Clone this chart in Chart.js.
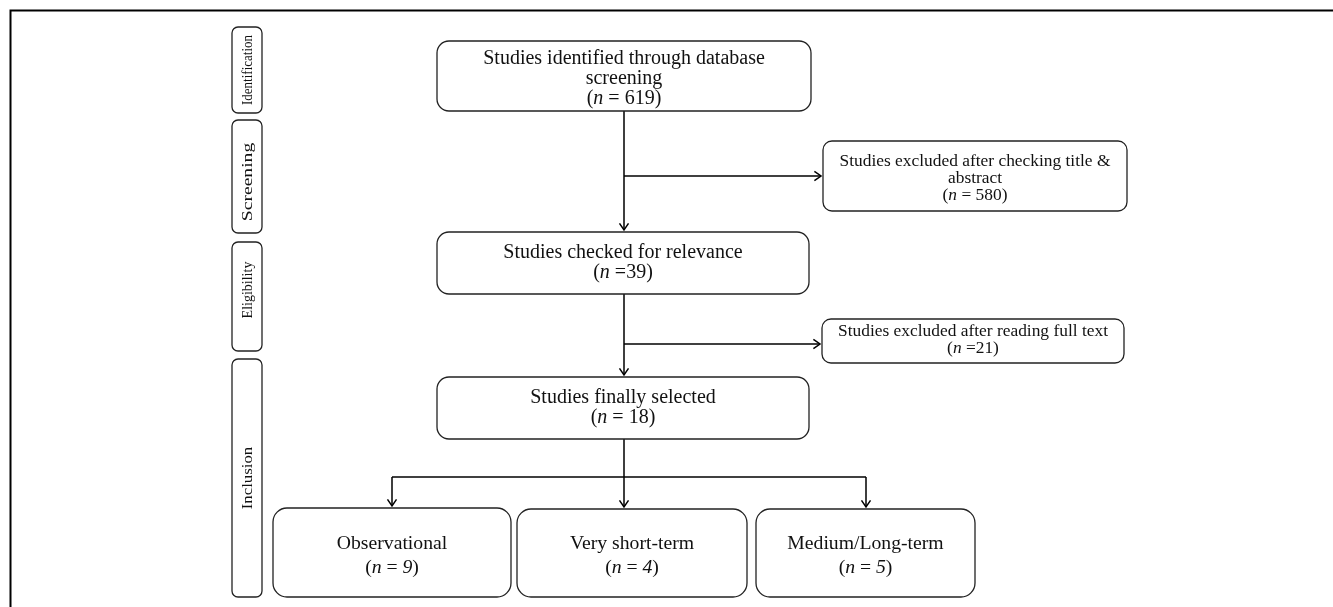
<!DOCTYPE html>
<html lang="en">
<head>
<meta charset="UTF-8">
<title>Study selection flow</title>
<script src="https://cdn.jsdelivr.net/npm/chart.js"></script>
<style>
    body { margin: 0; background: #fff; }
    canvas { display: block; }
</style>
</head>
<body>
<canvas id="flow" width="1333" height="607"></canvas>
<script>
// ---- content ----
var stageLabels = ['Identification', 'Screening', 'Eligibility', 'Inclusion'];

var mainTitles = [
    ['Studies identified through database', 'screening'],
    ['Studies checked for relevance'],
    ['Studies finally selected']
];
var mainCounts = [619, 39, 18];
var mainCountFmt = ['(*n* = {v})', '(*n* ={v})', '(*n* = {v})'];

var excludedTitles = [
    ['Studies excluded after checking title &', 'abstract'],
    ['Studies excluded after reading full text']
];
var excludedCounts = [580, 21];
var excludedCountFmt = ['(*n* = {v})', '(*n* ={v})'];

var groupNames = ['Observational', 'Very short-term', 'Medium/Long-term'];
var groupCounts = [9, 4, 5];

// ---- layout (chart units, 1 unit = 1 px) ----
var stageBoxes = [[232, 262, 27, 113], [232, 262, 120, 233], [232, 262, 242, 351], [232, 262, 359, 597]];
var stageTextCenter = [70, 182, 290, 478];
var stageStretch = [0.93, 1.4, 1.0, 1.2];
var mainBoxes = [[437, 811, 41, 111], [437, 809, 232, 294], [437, 809, 377, 439]];
var excludedBoxes = [[823, 1127, 141, 211], [822, 1124, 319, 363]];
var groupBoxes = [[273, 511, 508, 597], [517, 747, 509, 597], [756, 975, 509, 597]];

// connectors: [x1, y1, x2, y2, arrow]
var connectors = [
    [624, 111, 624, 230, true],
    [624, 176, 821, 176, true],
    [624, 294, 624, 375, true],
    [624, 344, 820, 344, true],
    [624, 439, 624, 477, false],
    [392, 477, 866, 477, false],
    [392, 477, 392, 506, true],
    [624, 477, 624, 507, true],
    [866, 477, 866, 507, true]
];

var SERIF = '"Liberation Serif", "Times New Roman", serif';

function fmt(tpl, v) { return tpl.replace('{v}', v); }

// draw a line of text where *...* parts are italic
function richText(ctx, str, cx, cy, size) {
    var parts = str.split('*');
    var widths = [];
    var total = 0;
    for (var i = 0; i < parts.length; i++) {
        ctx.font = (i % 2 ? 'italic ' : '') + size + 'px ' + SERIF;
        var w = ctx.measureText(parts[i]).width;
        widths.push(w);
        total += w;
    }
    var x = cx - total / 2;
    ctx.textAlign = 'left';
    ctx.textBaseline = 'middle';
    for (var j = 0; j < parts.length; j++) {
        ctx.font = (j % 2 ? 'italic ' : '') + size + 'px ' + SERIF;
        ctx.fillText(parts[j], x, cy);
        x += widths[j];
    }
}

function roundBox(ctx, x1, y1, x2, y2, r) {
    ctx.beginPath();
    ctx.roundRect(x1, y1, x2 - x1, y2 - y1, r);
    ctx.stroke();
}

var flowPlugin = {
    id: 'flow',
    afterDatasetsDraw: function (chart) {
        var ctx = chart.ctx;
        var sx = chart.scales.x, sy = chart.scales.y;
        function px(v) { return sx.getPixelForValue(v); }
        function py(v) { return sy.getPixelForValue(v); }

        ctx.save();
        ctx.fillStyle = '#111';

        // outer frame (top and left)
        ctx.strokeStyle = '#000';
        ctx.lineWidth = 2;
        ctx.beginPath();
        ctx.moveTo(px(10.5), py(607));
        ctx.lineTo(px(10.5), py(10.5));
        ctx.lineTo(px(1333), py(10.5));
        ctx.stroke();

        ctx.strokeStyle = '#222';
        ctx.lineWidth = 1.3;

        // stage boxes with rotated labels
        stageBoxes.forEach(function (b, i) {
            roundBox(ctx, px(b[0]), py(b[2]), px(b[1]), py(b[3]), 6);
            ctx.save();
            ctx.translate(px((b[0] + b[1]) / 2) + 1, py(stageTextCenter[i]));
            ctx.rotate(-Math.PI / 2);
            ctx.scale(stageStretch[i], 1);
            ctx.font = '14px ' + SERIF;
            ctx.textAlign = 'center';
            ctx.textBaseline = 'middle';
            ctx.fillText(stageLabels[i], 0, 0);
            ctx.restore();
        });

        function textBox(b, lines, size, gap, r, dy) {
            roundBox(ctx, px(b[0]), py(b[2]), px(b[1]), py(b[3]), r);
            var cx = px((b[0] + b[1]) / 2);
            var cy = py((b[2] + b[3]) / 2) + dy;
            var start = cy - (lines.length - 1) * gap / 2;
            lines.forEach(function (t, k) {
                richText(ctx, t, cx, start + k * gap, size);
            });
        }

        mainBoxes.forEach(function (b, i) {
            textBox(b, mainTitles[i].concat([fmt(mainCountFmt[i], mainCounts[i])]), 20, 20, 12, i === 0 ? 3 : 0);
        });
        excludedBoxes.forEach(function (b, i) {
            textBox(b, excludedTitles[i].concat([fmt(excludedCountFmt[i], excludedCounts[i])]), 17.4, 17, 9, i === 0 ? 2 : -1);
        });
        groupBoxes.forEach(function (b, i) {
            textBox(b, [groupNames[i], '(*n* = *' + groupCounts[i] + '*)'], 19.7, 24, 14, 3);
        });

        // arrow heads
        ctx.strokeStyle = '#000';
        ctx.lineWidth = 1.5;
        connectors.forEach(function (c) {
            if (!c[4]) return;
            var x = px(c[2]), y = py(c[3]);
            var ang = Math.atan2(py(c[3]) - py(c[1]), px(c[2]) - px(c[0]));
            var L = 8, W = 0.6;
            ctx.beginPath();
            ctx.moveTo(x - L * Math.cos(ang - W), y - L * Math.sin(ang - W));
            ctx.lineTo(x, y);
            ctx.lineTo(x - L * Math.cos(ang + W), y - L * Math.sin(ang + W));
            ctx.stroke();
        });
        ctx.restore();
    }
};

var datasets = connectors.map(function (c) {
    return {
        data: [{ x: c[0], y: c[1] }, { x: c[2], y: c[3] }],
        showLine: true,
        borderColor: '#000',
        borderWidth: 1.5,
        pointRadius: 0,
        pointHoverRadius: 0
    };
});

new Chart(document.getElementById('flow').getContext('2d'), {
    type: 'scatter',
    data: { datasets: datasets },
    options: {
        responsive: false,
        animation: false,
        layout: { padding: 0 },
        plugins: { legend: { display: false }, tooltip: { enabled: false } },
        scales: {
            x: { type: 'linear', min: 0, max: 1333, display: false },
            y: { type: 'linear', min: 0, max: 607, reverse: true, display: false }
        }
    },
    plugins: [flowPlugin]
});
</script>
</body>
</html>
